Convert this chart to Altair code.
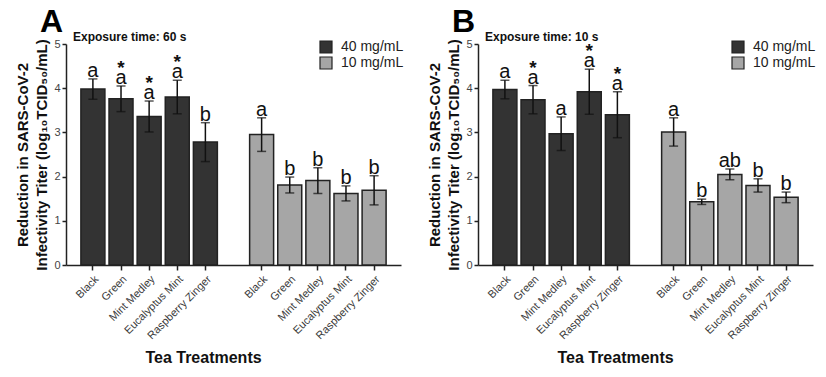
import altair as alt
import pandas as pd

teas = ["Black", "Green", "Mint Medley", "Eucalyptus Mint", "Raspberry Zinger"]
concs = ["40 mg/mL", "10 mg/mL"]

# Panel A (60 s)
a40_mean = [3.98, 3.76, 3.36, 3.80, 2.78]
a40_sd = [0.23, 0.29, 0.35, 0.38, 0.44]
a40_letters = ["a", "a", "a", "a", "b"]
a40_stars = ["", "*", "*", "*", ""]
a10_mean = [2.95, 1.81, 1.91, 1.62, 1.69]
a10_sd = [0.38, 0.18, 0.29, 0.17, 0.33]
a10_letters = ["a", "b", "b", "b", "b"]
a10_stars = ["", "", "", "", ""]

# Panel B (10 s)
b40_mean = [3.97, 3.74, 2.97, 3.92, 3.40]
b40_sd = [0.21, 0.32, 0.38, 0.51, 0.52]
b40_letters = ["a", "a", "a", "a", "a"]
b40_stars = ["", "*", "", "*", "*"]
b10_mean = [3.01, 1.43, 2.05, 1.80, 1.53]
b10_sd = [0.32, 0.06, 0.12, 0.15, 0.12]
b10_letters = ["a", "b", "ab", "b", "b"]
b10_stars = ["", "", "", "", ""]

FONT = "Liberation Sans"
keys40 = [t + "|40" for t in teas]
keys10 = [t + "|10" for t in teas]
tick_keys = keys40 + keys10
domain = keys40 + ["gap"] + keys10

y_title = ["Reduction in SARS-CoV-2", "Infectivity Titer (log\u2081\u2080TCID\u2085\u2080/mL)"]


def build_df(m40, s40, l40, st40, m10, s10, l10, st10):
    rows = []
    for conc, keys, m, s, l, st in [
        (concs[0], keys40, m40, s40, l40, st40),
        (concs[1], keys10, m10, s10, l10, st10),
    ]:
        for k, mm, ss, ll, sst in zip(keys, m, s, l, st):
            rows.append({"key": k, "conc": conc, "mean": mm, "lo": mm - ss,
                         "hi": mm + ss, "letter": ll, "star": sst})
    return pd.DataFrame(rows)


def X():
    return alt.X(
        "key:N",
        sort=domain,
        scale=alt.Scale(domain=domain, paddingInner=0.147, paddingOuter=0.53),
        axis=alt.Axis(
            values=tick_keys,
            labelExpr="split(datum.value, '|')[0]",
            labelAngle=315,
            labelFontSize=11,
            labelColor="#3a3a3a",
            labelFont=FONT,
            labelOverlap=False,
            labelPadding=3,
            tickSize=5,
            tickWidth=1.5,
            tickColor="#222222",
            domainColor="#222222",
            domainWidth=1.5,
            grid=False,
            title="Tea Treatments",
            titleFont=FONT,
            titleFontSize=16,
            titleFontWeight="bold",
            titleColor="#111111",
            titleX=137,
            titleY=97,
            titleAlign="center",
            titleBaseline="alphabetic",
        ),
    )


def Y(field):
    return alt.Y(
        field + ":Q",
        scale=alt.Scale(domain=[0, 5], nice=False),
        axis=alt.Axis(
            values=[0, 1, 2, 3, 4, 5],
            format="d",
            labelFontSize=11,
            labelColor="#444444",
            labelFont=FONT,
            labelPadding=2,
            tickSize=4,
            tickWidth=1.5,
            tickColor="#222222",
            domainColor="#222222",
            domainWidth=1.5,
            grid=False,
            title=y_title,
            titleFont=FONT,
            titleFontSize=15,
            titleFontWeight="bold",
            titleColor="#111111",
            titleLineHeight=19,
            titlePadding=4,
        ),
    )


def panel(letter, exposure, df):
    base = alt.Chart(df)
    bars = base.mark_bar(stroke="#222222", strokeWidth=1.5).encode(
        x=X(),
        y=Y("mean"),
        fill=alt.Fill(
            "conc:N",
            scale=alt.Scale(domain=concs, range=["#333333", "#a6a6a6"]),
            legend=alt.Legend(
                title=None,
                orient="none",
                legendX=253,
                legendY=-4,
                symbolType="square",
                symbolSize=144,
                symbolStrokeColor="#222222",
                symbolStrokeWidth=1.2,
                labelFontSize=14,
                labelFont=FONT,
                labelColor="#222222",
                labelOffset=8,
                rowPadding=-2,
            ),
        ),
    )
    err = base.mark_rule(color="#111111", strokeWidth=1.5).encode(
        x=X(), y=Y("lo"), y2="hi:Q"
    )
    cap_hi = base.mark_tick(color="#111111", thickness=1.5, size=9).encode(x=X(), y=Y("hi"))
    cap_lo = base.mark_tick(color="#111111", thickness=1.5, size=9).encode(x=X(), y=Y("lo"))
    letters = base.mark_text(
        font=FONT, fontSize=20, color="#111111", baseline="alphabetic", dy=-2
    ).encode(x=X(), y=Y("hi"), text="letter:N")
    stars = base.mark_text(
        font=FONT, fontSize=19, fontWeight="bold", color="#111111",
        baseline="alphabetic", dy=-12
    ).encode(x=X(), y=Y("hi"), text="star:N")
    lab = alt.Chart(pd.DataFrame({"t": [letter]})).mark_text(
        font=FONT, fontSize=32, fontWeight="bold", align="left",
        baseline="alphabetic", color="#000000"
    ).encode(x=alt.value(-26), y=alt.value(-12), text="t:N")
    expo = alt.Chart(pd.DataFrame({"t": [exposure]})).mark_text(
        font=FONT, fontSize=12, fontWeight="bold", align="left",
        baseline="alphabetic", color="#111111"
    ).encode(x=alt.value(7), y=alt.value(-3), text="t:N")
    return alt.layer(bars, err, cap_hi, cap_lo, letters, stars, lab, expo).properties(
        width=335, height=221
    )


dfA = build_df(a40_mean, a40_sd, a40_letters, a40_stars, a10_mean, a10_sd, a10_letters, a10_stars)
dfB = build_df(b40_mean, b40_sd, b40_letters, b40_stars, b10_mean, b10_sd, b10_letters, b10_stars)

chart = (
    alt.hconcat(
        panel("A", "Exposure time: 60 s", dfA),
        panel("B", "Exposure time: 10 s", dfB),
        spacing=22,
    )
    .resolve_scale(fill="independent")
    .resolve_legend(fill="independent")
    .properties(padding={"left": 15, "top": 5, "right": 5, "bottom": 5}, background="white")
    .configure_view(stroke="transparent")
)

chart.save("out.html", embed_options={"renderer": "svg", "actions": False})
